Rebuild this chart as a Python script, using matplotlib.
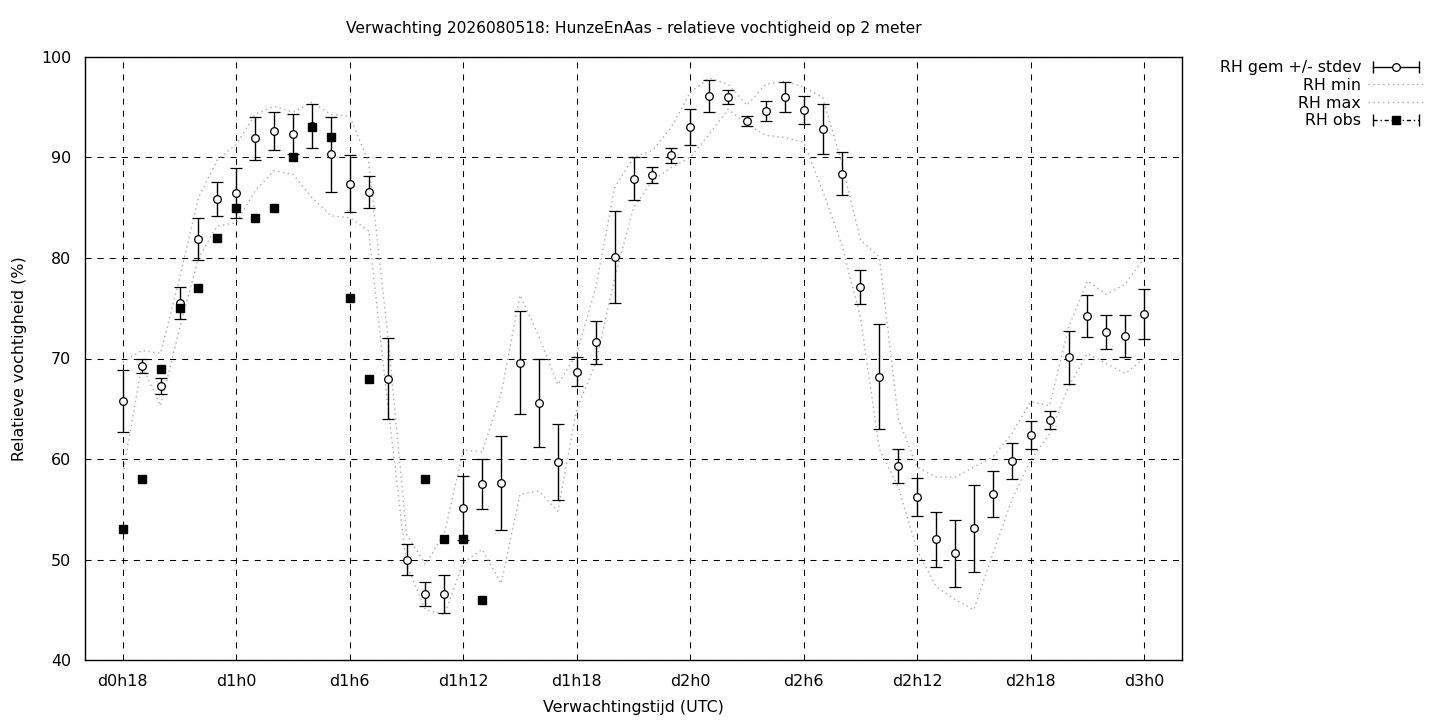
import matplotlib
matplotlib.use("Agg")
import matplotlib.pyplot as plt
from matplotlib.lines import Line2D
from matplotlib.legend_handler import HandlerLine2D, HandlerTuple
import numpy as np

# forecast hours since d0h0
hours = list(range(18, 73))

rh_mean = [65.8, 69.3, 67.3, 75.5, 81.9, 85.9, 86.5, 91.9, 92.6, 92.3,
           93.1, 90.3, 87.4, 86.6, 68.0, 50.0, 46.6, 46.6, 55.1, 57.5,
           57.6, 69.6, 65.6, 59.7, 68.7, 71.6, 80.1, 87.9, 88.3, 90.2,
           93.0, 96.1, 96.0, 93.6, 94.6, 96.0, 94.7, 92.8, 88.4, 77.1,
           68.2, 59.3, 56.2, 52.0, 50.6, 53.1, 56.5, 59.8, 62.4, 63.9,
           70.1, 74.2, 72.6, 72.2, 74.4]
rh_stdev = [3.1, 0.7, 0.8, 1.6, 2.1, 1.7, 2.5, 2.1, 1.9, 2.0,
            2.2, 3.7, 2.8, 1.6, 4.0, 1.5, 1.2, 1.9, 3.2, 2.5,
            4.7, 5.1, 4.4, 3.8, 1.4, 2.1, 4.6, 2.1, 0.8, 0.7,
            1.8, 1.6, 0.7, 0.5, 1.0, 1.5, 1.4, 2.5, 2.1, 1.7,
            5.2, 1.7, 1.9, 2.7, 3.3, 4.3, 2.3, 1.8, 1.4, 0.9,
            2.6, 2.1, 1.7, 2.1, 2.5]
rh_min = [58.5, 69.3, 65.3, 73.0, 80.0, 83.2, 83.5, 86.7, 88.7, 88.3,
          86.0, 84.2, 84.0, 82.7, 65.5, 49.5, 45.0, 44.5, 49.7, 51.0,
          47.6, 56.5, 56.8, 54.8, 65.0, 69.5, 78.0, 85.0, 87.7, 89.0,
          90.0, 92.3, 94.8, 93.3, 92.2, 92.0, 91.5, 86.7, 81.4, 74.1,
          61.0, 57.2, 50.9, 47.3, 46.0, 45.0, 50.6, 55.9, 59.9, 62.5,
          67.2, 70.5, 69.5, 68.5, 70.0]
rh_max = [69.6, 70.8, 70.5, 78.0, 86.0, 89.8, 91.3, 94.3, 95.1, 94.5,
          95.5, 94.3, 94.1, 89.5, 72.5, 52.5, 49.5, 52.6, 60.9, 60.7,
          66.5, 76.3, 72.2, 67.4, 70.5, 77.0, 87.0, 90.0, 90.7, 93.0,
          96.5, 97.9, 97.3, 95.2, 97.3, 97.6, 97.0, 96.0, 89.5, 81.8,
          80.1, 64.0, 59.2, 58.2, 58.2, 59.2, 60.2, 62.5, 65.7, 65.3,
          73.1, 77.7, 76.4, 77.4, 80.0]

obs_hours = list(range(18, 38))
rh_obs = [53, 58, 69, 75, 77, 82, 85, 84, 85, 90,
          93, 92, 76, 68, np.nan, np.nan, 58, 52, 52, 46]

tick_hours = [18, 24, 30, 36, 42, 48, 54, 60, 66, 72]
tick_labels = ["d0h18", "d1h0", "d1h6", "d1h12", "d1h18",
               "d2h0", "d2h6", "d2h12", "d2h18", "d3h0"]

plt.rcParams['font.family'] = ['DejaVu Sans']
plt.rcParams['font.size'] = 11.4

fig = plt.figure(figsize=(14.4, 7.2), dpi=100)
ax = fig.add_axes([85/1440, 60/720, 1097/1440, 603/720])

dot = (0, (1, 2.5))
ax.plot(hours, rh_min, color='#aaaaaa', lw=1, ls=dot, zorder=2)
ax.plot(hours, rh_max, color='#aaaaaa', lw=1, ls=dot, zorder=2)
ax.errorbar(hours, rh_mean, yerr=rh_stdev, fmt='o', color='k', mfc='white',
            mec='k', ms=5.5, mew=0.9, capsize=4, elinewidth=1, capthick=1, zorder=3)
ax.plot(obs_hours, rh_obs, 's', color='k', ms=5.5, zorder=4)

ax.set_xlim(16, 74)
ax.set_ylim(40, 100)
ax.set_xticks(tick_hours)
ax.set_xticklabels(tick_labels)
ax.set_yticks(range(40, 101, 10))
ax.tick_params(length=0, pad=10)
ax.grid(True, color='k', lw=0.75, ls=(0, (5.8, 5.8)))
for s in ax.spines.values():
    s.set_linewidth(1)

ax.set_title("Verwachting 2026080518: HunzeEnAas - relatieve vochtigheid op 2 meter",
             fontsize=11.2, pad=17)
ax.set_xlabel("Verwachtingstijd (UTC)", labelpad=8)
ax.set_ylabel("Relatieve vochtigheid (%)", labelpad=10)

# legend handles in gnuplot style
gem_bar = Line2D([], [], color='k', lw=1, marker='|', ms=8, mew=1)
gem_pt = Line2D([], [], ls='none', marker='o', mfc='white', mec='k', ms=5.5, mew=0.9)
min_line = Line2D([], [], color='#aaaaaa', lw=1, ls=dot)
max_line = Line2D([], [], color='#aaaaaa', lw=1, ls=dot)
obs_bar = Line2D([], [], color='k', lw=1, ls=(0, (3, 2, 1, 2)), marker='|', ms=8, mew=1)
obs_pt = Line2D([], [], ls='none', marker='s', color='k', ms=5.5)

hmap = {gem_bar: HandlerLine2D(numpoints=2), gem_pt: HandlerLine2D(numpoints=1),
        obs_bar: HandlerLine2D(numpoints=2), obs_pt: HandlerLine2D(numpoints=1),
        tuple: HandlerTuple(ndivide=1)}
fig.legend([(gem_bar, gem_pt), min_line, max_line, (obs_bar, obs_pt)],
           ["RH gem +/- stdev", "RH min", "RH max", "RH obs"],
           loc='upper right', bbox_to_anchor=(1438/1440, 1 - 46/720),
           frameon=False, markerfirst=False, handlelength=3.5,
           handletextpad=0.45, labelspacing=0.17, fontsize=11.4, handler_map=hmap)

fig.savefig("out.png", dpi=100)
